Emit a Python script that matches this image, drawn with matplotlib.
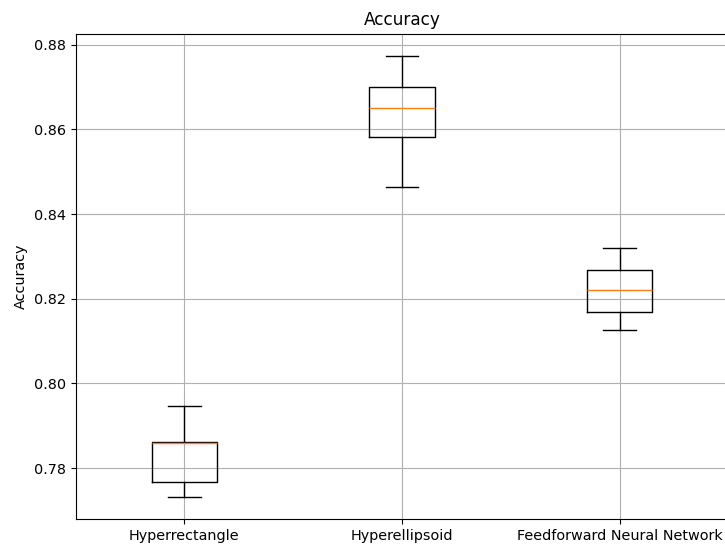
import matplotlib
matplotlib.use("Agg")
import matplotlib.pyplot as plt

# box statistics
labels = ['Hyperrectangle', 'Hyperellipsoid', 'Feedforward Neural Network']
whislo = [0.7731, 0.8464, 0.8126]
q1 = [0.7766, 0.8582, 0.8168]
med = [0.7858, 0.8651, 0.8220]
q3 = [0.7861, 0.8701, 0.8267]
whishi = [0.7947, 0.8774, 0.8319]

stats = []
for i in range(len(labels)):
    stats.append({'label': labels[i], 'whislo': whislo[i], 'q1': q1[i],
                  'med': med[i], 'q3': q3[i], 'whishi': whishi[i], 'fliers': []})

fig = plt.figure(figsize=(7.25, 5.46), dpi=100)
# axes runs slightly past the right edge, like the cropped original
ax = fig.add_axes([75.5 / 725, 26.7 / 546, 653 / 725, 485.6 / 546])
ax.bxp(stats)
ax.set_title('Accuracy', fontsize=12.2)
ax.set_ylabel('Accuracy', fontsize=10.4)
ax.tick_params(labelsize=10.4)
ax.grid(True)

fig.savefig('out.png', dpi=100)
